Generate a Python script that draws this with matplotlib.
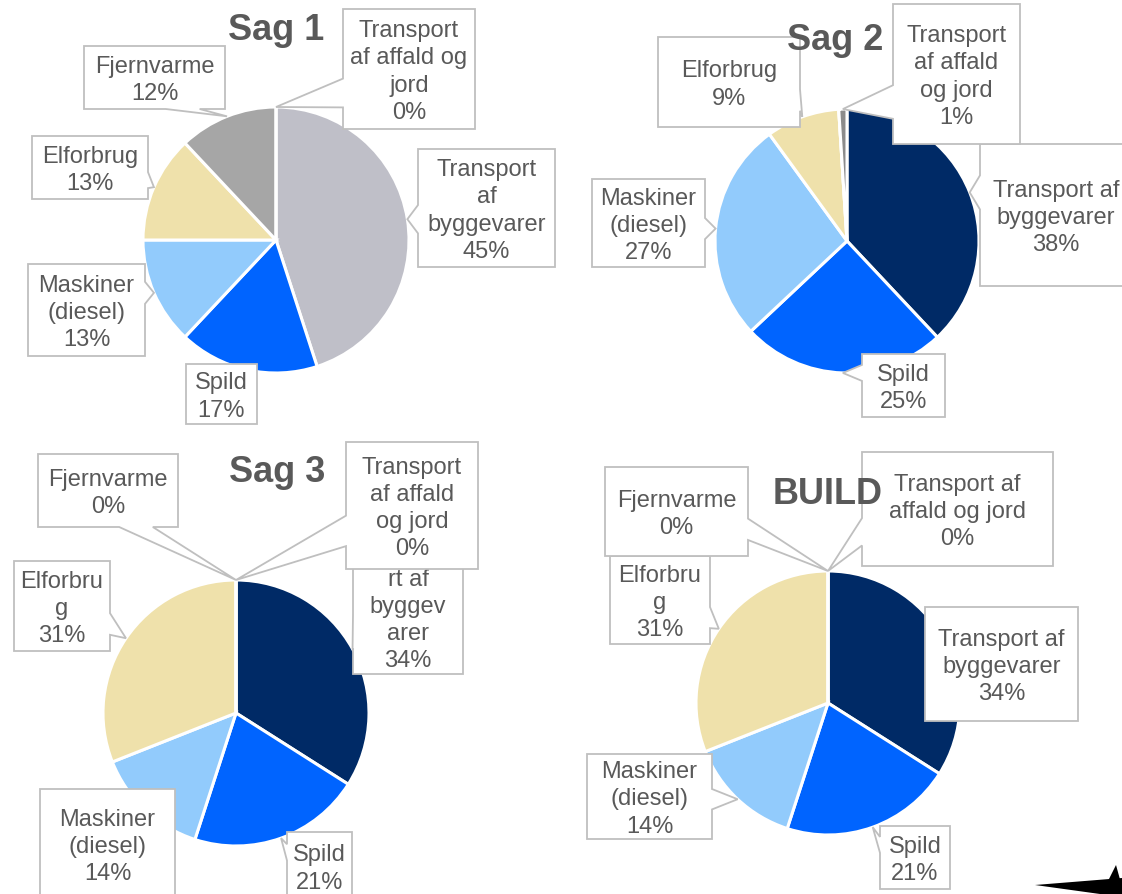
import numpy as np
import matplotlib.pyplot as plt
from matplotlib.patches import Polygon

plt.rcParams['font.family'] = ['Liberation Sans', 'DejaVu Sans']

W, H = 1122, 895

# data
categories = ['Transport af byggevarer', 'Spild', 'Maskiner (diesel)',
              'Elforbrug', 'Fjernvarme', 'Transport af affald og jord']
sag1_values = [45, 17, 13, 13, 12, 0]
sag2_values = [38, 25, 27, 9, 0, 1]
sag3_values = [34, 21, 14, 31, 0, 0]
build_values = [34, 21, 14, 31, 0, 0]
titles = ['Sag 1', 'Sag 2', 'Sag 3', 'BUILD']

navy = '#002A66'
blue = '#0064FF'
lightblue = '#92CBFC'
beige = '#EFE1AB'
sag1_colors = ['#BFBFC8', blue, lightblue, beige, '#A6A6A6', '#8C8C8C']
other_colors = [navy, blue, lightblue, beige, '#A6A6A6', '#8C8C8C']

txt_col = '#595959'
box_col = '#BFBFBF'

# layout: pie centre / radius in pixels (y down), title position, label boxes
# label entry: (wrapped text, box x0,y0,x1,y1, pointer side or None, text y shift)
charts = [
    dict(values=sag1_values, colors=sag1_colors, center=(276, 241), r=133,
         title_pos=(276, 30),
         labels={0: ("Transport\naf\nbyggevarer", (418, 150, 555, 268), None, 0),
                 1: ("Spild", (186, 365, 257, 425), None, 0),
                 2: ("Maskiner\n(diesel)", (28, 265, 145, 357), None, 0),
                 3: ("Elforbrug", (32, 137, 148, 200), None, 0),
                 4: ("Fjernvarme", (84, 47, 225, 110), None, 0),
                 5: ("Transport\naf affald og\njord", (343, 10, 475, 130), None, 0)}),
    dict(values=sag2_values, colors=other_colors, center=(847, 242), r=132,
         title_pos=(835, 40),
         labels={0: ("Transport af\nbyggevarer", (980, 145, 1132, 287), None, 0),
                 1: ("Spild", (862, 355, 945, 418), None, 0),
                 2: ("Maskiner\n(diesel)", (592, 180, 705, 268), None, 0),
                 3: ("Elforbrug", (658, 38, 800, 128), None, 0),
                 5: ("Transport\naf affald\nog jord", (893, 5, 1020, 145), None, 0)}),
    dict(values=sag3_values, colors=other_colors, center=(236, 714), r=133,
         title_pos=(277, 472),
         labels={0: ("rt af\nbyggev\narer", (353, 534, 463, 675), None, 14),
                 1: ("Spild", (287, 833, 352, 901), None, 0),
                 2: ("Maskiner\n(diesel)", (40, 790, 175, 900), None, 0),
                 3: ("Elforbru\ng", (14, 562, 110, 652), None, 0),
                 4: ("Fjernvarme", (38, 455, 178, 528), 'bottom', 0),
                 5: ("Transport\naf affald\nog jord", (346, 443, 478, 570), None, 0)}),
    dict(values=build_values, colors=other_colors, center=(828, 704), r=132,
         title_pos=(828, 495),
         labels={0: ("Transport af\nbyggevarer", (925, 608, 1078, 722), None, 0),
                 1: ("Spild", (880, 827, 950, 890), None, 0),
                 2: ("Maskiner\n(diesel)", (587, 755, 712, 840), None, 0),
                 3: ("Elforbru\ng", (610, 557, 710, 645), None, 0),
                 4: ("Fjernvarme", (605, 468, 748, 557), None, 0),
                 5: ("Transport af\naffald og jord", (862, 453, 1053, 567), None, 0)}),
]


def callout(ax, box, anchor, z, side=None):
    x0, y0, x1, y1 = box
    px, py = anchor
    dx = px - min(max(px, x0), x1)
    dy = py - min(max(py, y0), y1)
    TL, TR, BR, BL = (x0, y0), (x1, y0), (x1, y1), (x0, y1)
    if side is None:
        if dx == 0 and dy == 0:
            side = 'none'
        elif abs(dx) >= abs(dy):
            side = 'right' if dx > 0 else 'left'
        else:
            side = 'bottom' if dy > 0 else 'top'
    if side == 'none':
        pts = [TL, TR, BR, BL]
    elif side in ('left', 'right'):
        t = np.clip((py - y0) / (y1 - y0), 0.3, 0.7)
        hw = max(0.12 * (y1 - y0), 8)
        b1, b2 = y0 + t * (y1 - y0) - hw, y0 + t * (y1 - y0) + hw
        if side == 'right':
            pts = [TL, TR, (x1, b1), anchor, (x1, b2), BR, BL]
        else:
            pts = [TL, TR, BR, BL, (x0, b2), anchor, (x0, b1)]
    else:
        t = np.clip((px - x0) / (x1 - x0), 0.3, 0.7)
        hw = max(0.12 * (x1 - x0), 8)
        b1, b2 = x0 + t * (x1 - x0) - hw, x0 + t * (x1 - x0) + hw
        if side == 'bottom':
            pts = [TL, TR, BR, (b2, y1), anchor, (b1, y1), BL]
        else:
            pts = [TL, (b1, y0), anchor, (b2, y0), TR, BR, BL]
    pts = [(x, H - y) for x, y in pts]
    ax.add_patch(Polygon(pts, closed=True, fc='white', ec=box_col, lw=1.3, zorder=z))


fig = plt.figure(figsize=(W / 100, H / 100), dpi=100)
ax = fig.add_axes([0, 0, 1, 1])

for i, ch in enumerate(charts):
    cx, cy = ch['center']
    r = ch['r']
    vals = ch['values']
    wedges, _ = ax.pie(vals, colors=ch['colors'], center=(cx, H - cy), radius=r,
                       startangle=90, counterclock=False,
                       wedgeprops=dict(edgecolor='white', linewidth=2.2))
    for w in wedges:
        w.set_zorder(1)
    total = float(sum(vals))
    cum = np.cumsum([0] + list(vals))
    z = 3
    for k, (txt, box, side, shift) in ch['labels'].items():
        mid = (cum[k] + vals[k] / 2.0) / total * 2 * np.pi
        anchor = (cx + r * np.sin(mid), cy - r * np.cos(mid))
        callout(ax, box, anchor, z, side)
        pct = int(round(vals[k] / total * 100))
        ty = (box[1] + box[3]) / 2 + 2 + shift
        ax.text((box[0] + box[2]) / 2, H - ty, f"{txt}\n{pct}%",
                ha='center', va='center', fontsize=17, color=txt_col,
                linespacing=1.3, zorder=z + 0.5)
        z += 1
    tx, ty = ch['title_pos']
    ax.text(tx, H - ty, titles[i], ha='center', va='center', fontsize=26,
            fontweight='bold', color=txt_col, zorder=20)

# dark shape in the bottom-right corner
ax.add_patch(Polygon([(1035, H - 886), (1122, H - 879), (1122, H - 895), (1100, H - 895)],
                     closed=True, fc='black', ec='none', zorder=20))
ax.add_patch(Polygon([(1107, H - 884), (1116, H - 866), (1121, H - 884)],
                     closed=True, fc='black', ec='none', zorder=20))

ax.set_xlim(0, W)
ax.set_ylim(0, H)
ax.set_aspect('auto')
ax.axis('off')

fig.savefig('out.png', dpi=100)
